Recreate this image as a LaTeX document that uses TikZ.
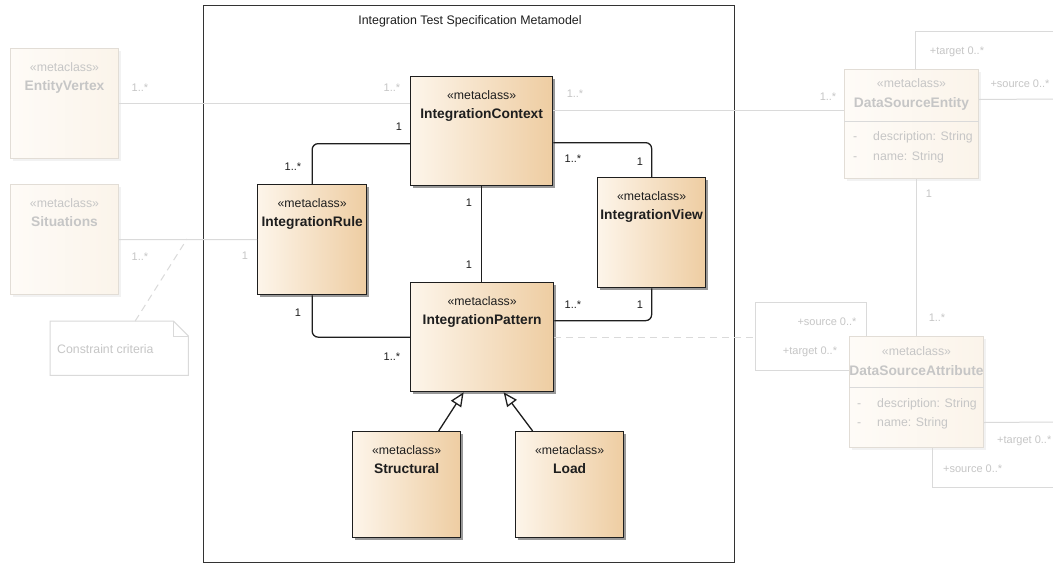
\documentclass[tikz,border=0pt]{standalone}
\usepackage{fontspec}
\setmainfont{Liberation Sans}
\usetikzlibrary{shadows,arrows.meta}

\definecolor{ink}{HTML}{1E1E1E}
\definecolor{frameink}{HTML}{333333}
\definecolor{tanL}{HTML}{FDF5EA}
\definecolor{tanR}{HTML}{EECDA2}
\definecolor{ghostline}{HTML}{DADADA}
\definecolor{ghosttext}{HTML}{C6C6C6}
\definecolor{ghostfillL}{HTML}{FEFBF7}
\definecolor{ghostfillR}{HTML}{FBF4EA}
\definecolor{ghostedge}{HTML}{E2DDD6}

\tikzset{
  cls/.style={draw=ink, line width=1.3pt, left color=tanL, right color=tanR,
    anchor=north west, inner sep=0pt,
    drop shadow={shadow xshift=2.5pt, shadow yshift=-2.5pt, fill=black, opacity=0.4}},
  ghostcls/.style={draw=ghostedge, line width=1pt, left color=ghostfillL, right color=ghostfillR,
    anchor=north west, inner sep=0pt,
    drop shadow={shadow xshift=2pt, shadow yshift=-2pt, fill=black, opacity=0.05}},
  stereo/.style={anchor=base, inner sep=0pt, font=\fontsize{12.3}{14}\selectfont, text=ink, yshift=-23.5pt},
  cname/.style={anchor=base, inner sep=0pt, font=\fontsize{13.8}{16}\selectfont\bfseries, text=ink, yshift=-42pt},
  gstereo/.style={stereo, text=ghosttext},
  gcname/.style={cname, text=ghosttext},
  assoc/.style={draw=ink, line width=1.3pt, rounded corners=6pt},
  gen/.style={draw=ink, line width=1.3pt, -{Triangle[open, length=14pt, width=12pt, fill=white]}},
  ghost/.style={draw=ghostline, line width=1pt},
  ghostdash/.style={draw=ghostline, line width=1pt, dash pattern=on 7pt off 5pt},
  mult/.style={inner sep=0pt, font=\fontsize{11}{13}\selectfont, text=ink},
  gmult/.style={inner sep=0pt, font=\fontsize{11}{13}\selectfont, text=ghosttext},
  attr/.style={anchor=base west, inner sep=0pt, font=\fontsize{12.3}{14}\selectfont, text=ghosttext},
  frametitle/.style={inner sep=0pt, font=\fontsize{12.4}{14}\selectfont, text=ink},
}

\begin{document}
\begin{tikzpicture}[x=1pt, y=-1pt]
  \useasboundingbox[fill=white] (0,0) rectangle (1053,563);

  % ---- faded surrounding classes ----
  \node[ghostcls, minimum width=108pt, minimum height=110pt,
        label={[gstereo, name=ev-s]north:«metaclass»},
        label={[gcname, name=ev-n]north:EntityVertex}] (ev) at (10,48) {};
  \node[ghostcls, minimum width=108pt, minimum height=110pt,
        label={[gstereo, name=sit-s]north:«metaclass»},
        label={[gcname, name=sit-n]north:Situations}] (sit) at (10,184) {};

  \node[ghostcls, minimum width=134pt, minimum height=109pt,
        label={[gstereo, yshift=5pt, name=dse-s]north:«metaclass»},
        label={[gcname, yshift=4pt, name=dse-n]north:DataSourceEntity}] (dse) at (844,69) {};
  \draw[ghost] ([yshift=2.5pt]dse.west) -- ([yshift=2.5pt]dse.east);
  \node[attr] (dse-a1d) at (853,140) {-};
  \node[attr] (dse-a1) at (873,140) {description: String};
  \node[attr] (dse-a2d) at (853,160) {-};
  \node[attr] (dse-a2) at (873,160) {name: String};

  \node[ghostcls, minimum width=134pt, minimum height=111pt,
        label={[gstereo, yshift=4pt, name=dsa-s]north:«metaclass»},
        label={[gcname, yshift=3pt, name=dsa-n]north:DataSourceAttribute}] (dsa) at (849,336) {};
  \draw[ghost] ([yshift=4.5pt]dsa.west) -- ([yshift=4.5pt]dsa.east);
  \node[attr] (dsa-a1d) at (857,407) {-};
  \node[attr] (dsa-a1) at (877,407) {description: String};
  \node[attr] (dsa-a2d) at (857,426) {-};
  \node[attr] (dsa-a2) at (877,426) {name: String};

  % note
  \node[anchor=north west, minimum width=138pt, minimum height=54pt, inner sep=0pt] (note) at (50,321) {};
  \draw[ghost, fill=white] (note.north west) -- ([xshift=-15pt]note.north east)
        -- ([yshift=-15pt]note.north east) -- (note.south east) -- (note.south west) -- cycle;
  \draw[ghost] ([xshift=-15pt]note.north east) |- ([yshift=-15pt]note.north east);
  \node[anchor=west, inner sep=0pt, font=\fontsize{12.3}{14}\selectfont, text=ghosttext] (note-t) at (57,349) {Constraint criteria};

  % ---- frame ----
  \node[draw=frameink, line width=1pt, anchor=north west, minimum width=531pt, minimum height=557pt, inner sep=0pt] (frm) at (203,5) {};
  \node[frametitle] (frm-t) at (470,21) {Integration Test Specification Metamodel};

  % ---- main classes ----
  \node[cls, minimum width=142pt, minimum height=109pt,
        label={[stereo, name=ctx-s]north:«metaclass»},
        label={[cname, name=ctx-n]north:IntegrationContext}] (ctx) at (410,76) {};
  \node[cls, minimum width=109pt, minimum height=110pt,
        label={[stereo, name=rule-s]north:«metaclass»},
        label={[cname, name=rule-n]north:IntegrationRule}] (rule) at (257,184) {};
  \node[cls, minimum width=108pt, minimum height=110pt,
        label={[stereo, name=view-s]north:«metaclass»},
        label={[cname, name=view-n]north:IntegrationView}] (view) at (597,177) {};
  \node[cls, minimum width=143pt, minimum height=109pt,
        label={[stereo, name=pat-s]north:«metaclass»},
        label={[cname, name=pat-n]north:IntegrationPattern}] (pat) at (410,282) {};
  \node[cls, minimum width=108pt, minimum height=106pt,
        label={[stereo, name=str-s]north:«metaclass»},
        label={[cname, name=str-n]north:Structural}] (str) at (352,431) {};
  \node[cls, minimum width=108pt, minimum height=106pt,
        label={[stereo, name=load-s]north:«metaclass»},
        label={[cname, name=load-n]north:Load}] (load) at (515,431) {};

  % ---- faded connectors ----
  \coordinate (c-ctxdse) at ([yshift=20.5pt]ctx.east);
  \coordinate (edgeR1) at (1053,31);
  \coordinate (edgeR2) at (1053,99);
  \coordinate (edgeR3) at (1053,487);
  \coordinate (edgeR4) at (1053,422);
  \coordinate (loopL) at (755,302);
  \coordinate (anc) at (187,239);

  \draw[ghost] (ev.east) -- (ev.east -| ctx.west);
  \draw[ghost] (sit.east) -- (rule.west);
  \draw[ghostdash] ([xshift=16pt]note.north) -- (anc);
  \draw[ghost] (c-ctxdse) -- (c-ctxdse -| dse.west);
  \draw[ghost] ([xshift=4pt]dse.north) |- (edgeR1);
  \draw[ghost] ([yshift=24.5pt]dse.east) -- (edgeR2);
  \draw[ghost] (dse.south -| dsa.north) -- (dsa.north);
  \draw[ghost] ([xshift=-50pt]dsa.north) |- (loopL) |- ([yshift=21.5pt]dsa.west);
  \draw[ghostdash] (pat.east) -- (pat.east -| loopL);
  \draw[ghost] ([xshift=16pt]dsa.south) |- (edgeR3);
  \draw[ghost] ([yshift=-30.5pt]dsa.east) -- (edgeR4);

  % ---- main connectors ----
  \draw[assoc] ([yshift=-12.5pt]ctx.west) -| (rule.north);
  \draw[assoc] ([yshift=-11.5pt]ctx.east) -| (view.north);
  \draw[assoc] ([yshift=16.5pt]pat.east) -| (view.south);
  \draw[assoc] (ctx.south) -- (ctx.south |- pat.north);
  \draw[assoc] (rule.south) |- (pat.west);
  \draw[gen] ([xshift=32pt]str.north) -- ([xshift=-18.5pt]pat.south);
  \draw[gen] ([xshift=-37pt]load.north) -- ([xshift=21.5pt]pat.south);

  % ---- multiplicities ----
  \node[mult] (m1) at (399,127) {1};
  \node[mult] (m2) at (293,167) {1..*};
  \node[mult] (m3) at (573,159) {1..*};
  \node[mult] (m4) at (640,162) {1};
  \node[mult] (m5) at (573,305) {1..*};
  \node[mult] (m6) at (640,305) {1};
  \node[mult] (m7) at (469,203) {1};
  \node[mult] (m8) at (469,265) {1};
  \node[mult] (m9) at (298,313) {1};
  \node[mult] (m10) at (392,357) {1..*};

  \node[gmult] (g1) at (140,88) {1..*};
  \node[gmult] (g2) at (392,88) {1..*};
  \node[gmult] (g3) at (140,257) {1..*};
  \node[gmult] (g4) at (245,256) {1};
  \node[gmult] (g5) at (575,94) {1..*};
  \node[gmult] (g6) at (828,97) {1..*};
  \node[gmult] (g7) at (957,52) {+target 0..*};
  \node[gmult] (g8) at (1020,84) {+source 0..*};
  \node[gmult] (g9) at (929,194) {1};
  \node[gmult] (g10) at (937,318) {1..*};
  \node[gmult] (g11) at (827,322) {+source 0..*};
  \node[gmult] (g12) at (810,352) {+target 0..*};
  \node[gmult, anchor=west] (g13) at (997,441) {+target 0..*};
  \node[gmult, anchor=west] (g14) at (943,469) {+source 0..*};
\end{tikzpicture}
\end{document}
